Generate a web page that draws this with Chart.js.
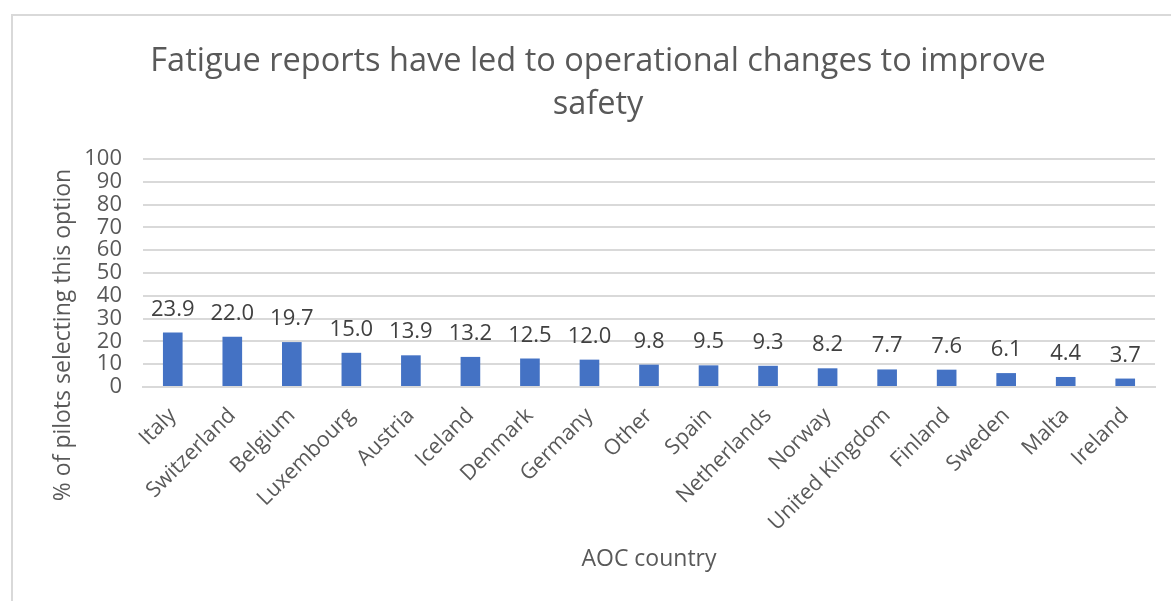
<!DOCTYPE html>
<html>
<head>
<meta charset="utf-8">
<script src="https://cdn.jsdelivr.net/npm/chart.js@4.4.0/dist/chart.umd.min.js"></script>
<style>
html,body{margin:0;padding:0;background:#fff;overflow:hidden;}
#wrap{position:relative;width:1171px;height:601px;}
</style>
</head>
<body>
<div id="wrap"><canvas id="c" width="1171" height="601"></canvas></div>
<script>
const categories = ["Italy","Switzerland","Belgium","Luxembourg","Austria","Iceland","Denmark","Germany","Other","Spain","Netherlands","Norway","United Kingdom","Finland","Sweden","Malta","Ireland"];
const values = [23.9,22.0,19.7,15.0,13.9,13.2,12.5,12.0,9.8,9.5,9.3,8.2,7.7,7.6,6.1,4.4,3.7];
const titleLines = ["Fatigue reports have led to operational changes to improve","safety"];
const yTitle = "% of pilots selecting this option";
const xTitle = "AOC country";

const FONT = "'Open Sans', sans-serif";
Chart.defaults.font.family = FONT;

const extras = {
  id: 'extras',
  beforeDraw(chart) {
    const ctx = chart.ctx;
    ctx.save();
    ctx.fillStyle = '#fff';
    ctx.fillRect(0, 0, chart.width, chart.height);
    ctx.strokeStyle = '#d9d9d9';
    ctx.lineWidth = 2;
    ctx.strokeRect(12, 15, 2000, 2000);
    ctx.restore();
  },
  afterDraw(chart) {
    const ctx = chart.ctx;
    const area = chart.chartArea;
    ctx.save();
    ctx.fillStyle = '#595959';
    ctx.font = "32.5px " + FONT;
    ctx.textAlign = 'center';
    ctx.textBaseline = 'alphabetic';
    ctx.fillText(titleLines[0], 598, 71);
    ctx.fillText(titleLines[1], 598, 114);
    ctx.font = "23px " + FONT;
    ctx.textBaseline = 'middle';
    ctx.fillText(xTitle, (area.left + area.right) / 2, 559);
    ctx.translate(63, 335);
    ctx.rotate(-Math.PI / 2);
    ctx.fillText(yTitle, 0, 0);
    ctx.restore();
    const meta = chart.getDatasetMeta(0);
    ctx.save();
    ctx.fillStyle = '#404040';
    ctx.font = "22px " + FONT;
    ctx.textAlign = 'center';
    ctx.textBaseline = 'alphabetic';
    meta.data.forEach((bar, i) => {
      ctx.fillText(values[i].toFixed(1), bar.x, bar.y - 17);
    });
    ctx.restore();
  }
};

new Chart(document.getElementById('c'), {
  type: 'bar',
  data: {
    labels: categories,
    datasets: [{
      data: values,
      backgroundColor: '#4472C4',
      borderWidth: 0,
      barPercentage: 1,
      categoryPercentage: 0.33
    }]
  },
  options: {
    responsive: false,
    animation: false,
    events: [],
    layout: { padding: { top: 159, right: 16, left: 0, bottom: 0 } },
    plugins: { legend: { display: false }, tooltip: { enabled: false }, title: { display: false } },
    scales: {
      x: {
        grid: { display: false, drawTicks: false },
        border: { display: true, color: '#d9d9d9', width: 2 },
        ticks: { color: '#595959', font: { size: 21.5 }, maxRotation: 45, minRotation: 45, padding: 16, autoSkip: false },
        afterFit(s) { s.height = 601 - 387; }
      },
      y: {
        min: 0, max: 100,
        grid: { color: '#d9d9d9', lineWidth: 2, drawTicks: false },
        border: { display: false },
        ticks: { stepSize: 10, color: '#595959', font: { size: 22 }, padding: 21, autoSkip: false },
        afterFit(s) { s.width = 143; }
      }
    }
  },
  plugins: [extras]
});
</script>
</body>
</html>
